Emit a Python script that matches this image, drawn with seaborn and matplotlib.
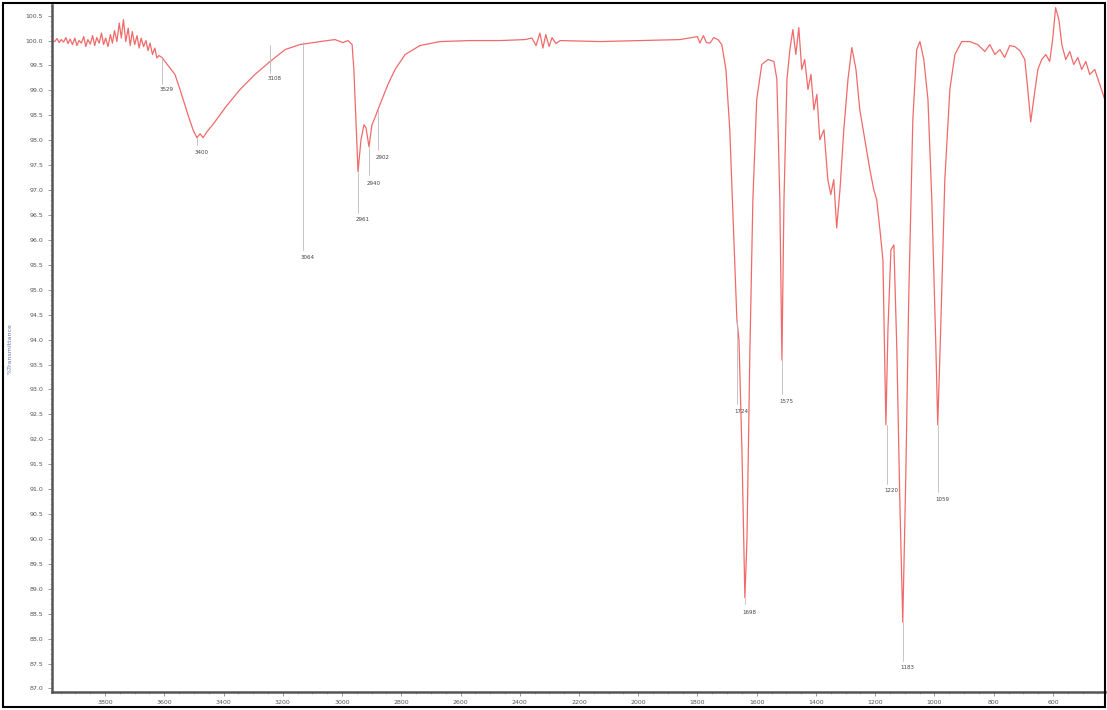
import numpy as np
import pandas as pd
import seaborn as sns
import matplotlib.pyplot as plt
from matplotlib.patches import Rectangle
from matplotlib.ticker import MultipleLocator

# IR spectrum (wavenumber in cm-1, % transmittance)
wavenumber = [
    3979, 3970, 3962, 3955, 3948, 3940, 3932, 3925, 3918, 3910, 3902, 3895, 3888, 3880,
    3872, 3865, 3858, 3850, 3842, 3835, 3828, 3820, 3812, 3805, 3798, 3790, 3782, 3775,
    3768, 3760, 3752, 3745, 3738, 3730, 3722, 3715, 3708, 3700, 3692, 3685, 3678, 3670,
    3662, 3655, 3648, 3640, 3632, 3625, 3618, 3608, 3564, 3547, 3520, 3503, 3490, 3479,
    3469, 3456, 3429, 3395, 3344, 3294, 3243, 3192, 3142, 3074, 3024, 2997, 2980, 2966,
    2960, 2953, 2946, 2936, 2926, 2919, 2909, 2899, 2889, 2879, 2865, 2845, 2821, 2787,
    2737, 2669, 2568, 2467, 2382, 2359, 2345, 2332, 2322, 2312, 2301, 2291, 2278, 2264,
    2129, 1994, 1859, 1800, 1792, 1780, 1770, 1758, 1745, 1731, 1718, 1704, 1691, 1677,
    1667, 1660, 1650, 1640, 1633, 1623, 1613, 1600, 1583, 1562, 1542, 1532, 1522, 1515,
    1508, 1498, 1488, 1478, 1468, 1458, 1448, 1438, 1427, 1417, 1407, 1397, 1387, 1373,
    1360, 1350, 1340, 1330, 1319, 1306, 1292, 1279, 1265, 1252, 1235, 1218, 1205, 1195,
    1184, 1174, 1164, 1157, 1147, 1137, 1127, 1117, 1107, 1097, 1087, 1073, 1060, 1049,
    1036, 1022, 1009, 995, 989, 979, 965, 948, 931, 908, 881, 854, 830, 813, 796, 779,
    763, 746, 729, 712, 695, 685, 675, 665, 651, 638, 624, 611, 601, 591, 580, 570, 557,
    543, 530, 516, 503, 489, 476, 459, 442, 425,
]
transmittance = [
    100.00, 99.98, 100.04, 99.96, 100.02, 99.97, 100.06, 99.94, 100.03, 99.92, 100.05, 99.90, 100.00, 99.95,
    100.08, 99.88, 100.02, 99.93, 100.10, 99.90, 100.06, 99.95, 100.15, 99.92, 100.05, 99.88, 100.12, 99.95,
    100.20, 99.98, 100.35, 100.05, 100.42, 99.98, 100.25, 99.90, 100.18, 99.92, 100.10, 99.85, 100.05, 99.88,
    100.00, 99.80, 99.95, 99.72, 99.85, 99.65, 99.70, 99.66, 99.32, 99.02, 98.51, 98.21, 98.05, 98.13,
    98.05, 98.17, 98.37, 98.65, 99.02, 99.32, 99.58, 99.82, 99.92, 99.98, 100.02, 99.96, 100.00, 99.92,
    99.42, 98.41, 97.37, 98.01, 98.31, 98.25, 97.87, 98.31, 98.45, 98.61, 98.82, 99.12, 99.42, 99.72,
    99.90, 99.98, 100.00, 100.00, 100.02, 100.05, 99.90, 100.15, 99.85, 100.12, 99.88, 100.06, 99.94, 100.00,
    99.98, 100.00, 100.02, 100.08, 99.95, 100.10, 99.96, 99.95, 100.06, 100.02, 99.92, 99.42, 98.21, 96.00,
    94.40, 94.00, 91.79, 88.82, 89.98, 93.80, 96.81, 98.82, 99.52, 99.62, 99.58, 99.22, 96.81, 93.59,
    96.81, 99.22, 99.82, 100.22, 99.72, 100.26, 99.42, 99.62, 99.02, 99.32, 98.61, 98.92, 98.01, 98.21,
    97.21, 96.91, 97.21, 96.24, 97.01, 98.21, 99.22, 99.86, 99.42, 98.61, 98.01, 97.41, 97.01, 96.81,
    96.20, 95.60, 92.29, 94.20, 95.80, 95.90, 93.80, 90.78, 88.33, 91.18, 94.80, 98.41, 99.82, 99.98,
    99.62, 98.82, 96.81, 93.80, 92.29, 94.20, 97.21, 99.02, 99.72, 99.98, 99.98, 99.92, 99.78, 99.92, 99.72, 99.82,
    99.66, 99.90, 99.88, 99.80, 99.62, 99.02, 98.37, 98.82, 99.42, 99.62, 99.72, 99.58, 100.02, 100.66, 100.42, 99.92, 99.62,
    99.78, 99.52, 99.66, 99.42, 99.58, 99.32, 99.42, 99.12, 98.82,
]

# peak labels: text, where the leader line is, its top and bottom, where the text sits
peak_text = ["3529", "3400", "3108", "3064", "2961", "2940", "2902",
             "1724", "1575", "1698", "1220", "1183", "1059"]
peak_wn = [3608, 3490, 3243, 3132, 2946, 2909, 2879, 1667, 1515, 1640, 1160, 1107, 989]
line_top = [99.66, 98.05, 99.92, 99.98, 97.37, 97.87, 98.61, 94.40, 93.59, 88.82, 92.29, 88.33, 92.29]
line_bottom = [99.12, 97.90, 99.35, 95.80, 96.55, 97.30, 97.80, 92.70, 92.90, 88.70, 91.10, 87.55, 90.95]
label_T = [99.06, 97.80, 99.28, 95.70, 96.47, 97.19, 97.71, 92.60, 92.80, 88.58, 91.03, 87.47, 90.85]

df = pd.DataFrame({"wn": wavenumber, "T": transmittance})

sns.set_style("white")
fig = plt.figure(figsize=(11.07, 7.10), dpi=100)
ax = fig.add_axes([0.047, 0.0254, 0.951, 0.968])

sns.lineplot(data=df, x="wn", y="T", sort=False, estimator=None,
             color="#f06a6a", linewidth=0.9, ax=ax)

for txt, w, t0, t1, ty in zip(peak_text, peak_wn, line_top, line_bottom, label_T):
    ax.plot([w, w], [t0, t1], color="#bbbbbb", linewidth=0.6)
    ax.text(w + 8, ty, txt, fontsize=4, color="#444444", ha="left", va="top")

ax.set_xlim(3979, 425)
ax.set_ylim(86.93, 100.72)
ax.xaxis.set_minor_locator(MultipleLocator(50))
ax.yaxis.set_minor_locator(MultipleLocator(0.1))
ax.set_yticks(np.arange(87.0, 100.51, 0.5))
ax.set_yticklabels([f"{v:.1f}" for v in np.arange(87.0, 100.51, 0.5)])
ax.set_xticks(np.arange(600, 3801, 200))
ax.set_xticklabels([str(v) for v in np.arange(600, 3801, 200)])
ax.tick_params(axis="both", which="major", labelsize=4.5, labelcolor="#555555",
               length=3, width=0.6, color="#888888", left=True, bottom=True)
ax.tick_params(axis="both", which="minor", length=1.5, width=0.4, color="#999999",
               left=True, bottom=True)
ax.tick_params(axis="x", pad=3)

for side in ["top", "right"]:
    ax.spines[side].set_visible(False)
for side in ["left", "bottom"]:
    ax.spines[side].set_color("#555555")
    ax.spines[side].set_linewidth(1.8)

ax.set_xlabel("")
ax.set_ylabel("%Transmittance", fontsize=4.5, color="#6677aa", labelpad=9)

fig.patches.append(Rectangle((0.003, 0.004), 0.995, 0.992, transform=fig.transFigure,
                             fill=False, edgecolor="black", linewidth=1.5))

fig.savefig("out.png", dpi=100)
